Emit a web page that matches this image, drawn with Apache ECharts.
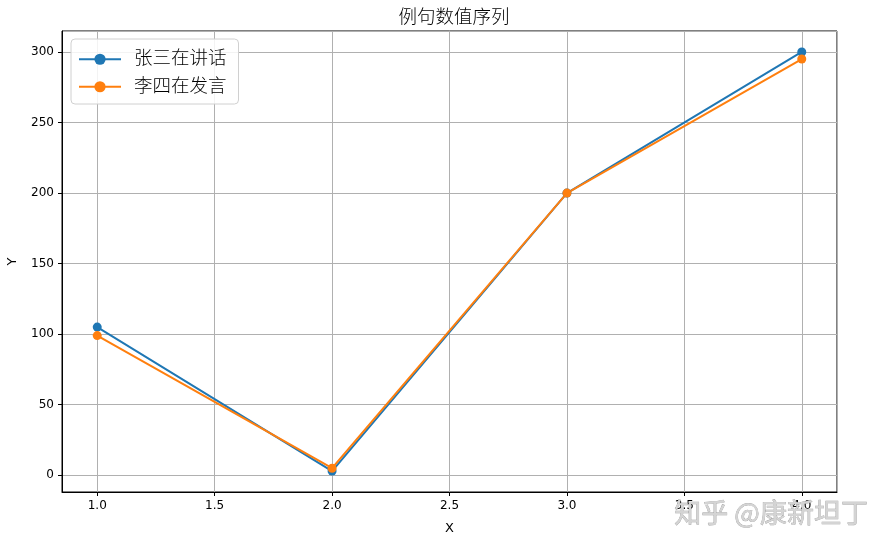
<!DOCTYPE html>
<html>
<head>
<meta charset="utf-8">
<script src="https://cdn.jsdelivr.net/npm/echarts@6/dist/echarts.min.js"></script>
<style>
  html, body { margin: 0; padding: 0; background: #fff; }
  #mainChart { width: 893px; height: 553px; }
</style>
</head>
<body>
<div id="mainChart"></div>
<script>
// values
var xValues = [1.0, 2.0, 3.0, 4.0];
var zhangSan = [105, 3, 200, 300];
var liSi = [99, 5, 200, 295];
var legends = ['张三在讲话', '李四在发言'];

var FONT = 'DejaVu Sans, "Noto Sans CJK SC", sans-serif';

function pairs(xs, ys) {
    var out = [];
    for (var i = 0; i < xs.length; i++) {
        out.push([xs[i], ys[i]]);
    }
    return out;
}

// matplotlib style 5% margin on each side
function padMin(v) { return v.min - 0.05 * (v.max - v.min); }
function padMax(v) { return v.max + 0.05 * (v.max - v.min); }

var myChart = echarts.init(document.getElementById('mainChart'));
myChart.setOption({
    animation: false,
    textStyle: {fontFamily: FONT},
    title: {
        text: '例句数值序列',
        left: 449,
        textAlign: 'center',
        top: 4,
        textStyle: {fontSize: 18.5, fontWeight: 300, color: '#000', fontFamily: FONT}
    },
    grid: {
        left: 62, right: 56, top: 31, bottom: 61,
        outerBoundsMode: 'none',
        containLabel: false,
        show: true, borderColor: '#000', borderWidth: 1
    },
    legend: {
        data: legends,
        orient: 'vertical',
        left: 71,
        top: 39,
        padding: [11, 12, 8, 7],
        itemWidth: 42,
        itemHeight: 14,
        itemGap: 9,
        backgroundColor: 'rgba(255,255,255,0.85)',
        borderColor: '#d0d0d0',
        borderWidth: 1,
        borderRadius: 4,
        textStyle: {fontSize: 18.5, fontWeight: 300, lineHeight: 18, color: '#000', padding: [0, 0, 0, 8], fontFamily: FONT}
    },
    xAxis: {
        type: 'value',
        name: 'X',
        nameLocation: 'middle',
        nameGap: 30,
        nameTextStyle: {fontSize: 13, color: '#000'},
        min: padMin,
        max: padMax,
        axisLine: {show: true, onZero: false, lineStyle: {color: '#000'}},
        axisTick: {show: true, length: 4, lineStyle: {color: '#000'}},
        axisLabel: {
            color: '#000', fontSize: 12, margin: 8,
            showMinLabel: false, showMaxLabel: false,
            formatter: function (v) { return v.toFixed(1); }
        },
        splitLine: {show: true, lineStyle: {color: '#b0b0b0', width: 1}}
    },
    yAxis: {
        type: 'value',
        name: 'Y',
        nameLocation: 'middle',
        nameGap: 43,
        nameTextStyle: {fontSize: 13, color: '#000'},
        min: padMin,
        max: padMax,
        axisLine: {show: true, onZero: false, lineStyle: {color: '#000'}},
        axisTick: {show: true, length: 4, lineStyle: {color: '#000'}},
        axisLabel: {
            color: '#000', fontSize: 12, margin: 8,
            showMinLabel: false, showMaxLabel: false
        },
        splitLine: {show: true, lineStyle: {color: '#b0b0b0', width: 1}}
    },
    series: [{
        name: legends[0],
        type: 'line',
        symbol: 'circle',
        symbolSize: 9,
        color: '#1f77b4',
        lineStyle: {width: 2},
        data: pairs(xValues, zhangSan)
    }, {
        name: legends[1],
        type: 'line',
        symbol: 'circle',
        symbolSize: 9,
        color: '#ff7f0e',
        lineStyle: {width: 2},
        data: pairs(xValues, liSi)
    }],
    graphic: [{
        type: 'text',
        left: 674,
        top: 499,
        z: 100,
        style: {
            text: '知乎 @康新坦丁',
            fontSize: 27,
            fontFamily: '"Noto Sans CJK SC", sans-serif',
            fill: '#d4d4d4',
            stroke: '#9a9a9a',
            lineWidth: 0.6
        }
    }]
});
</script>
</body>
</html>
